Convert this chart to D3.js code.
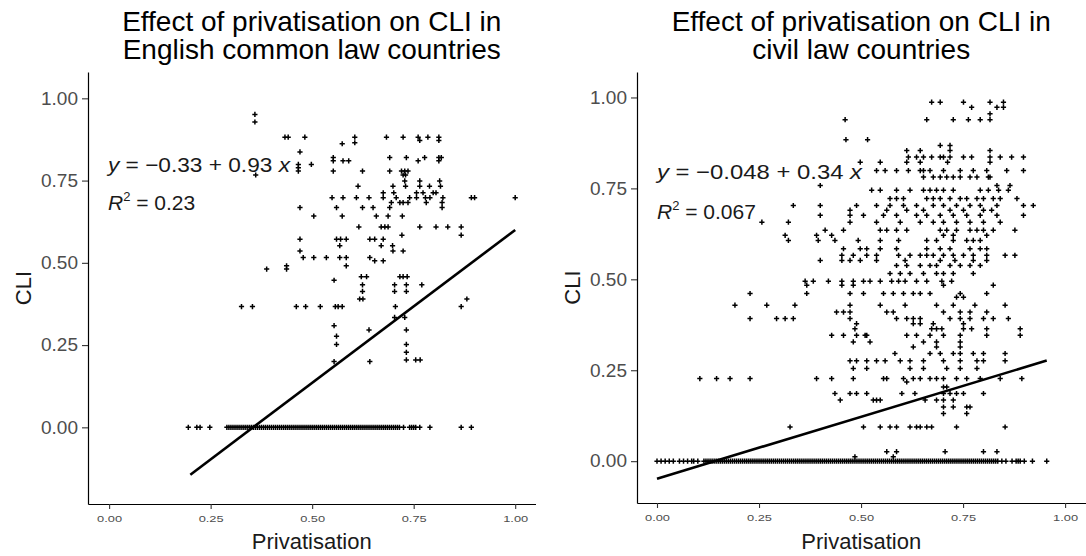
<!DOCTYPE html>
<html><head><meta charset="utf-8">
<script src="https://cdn.jsdelivr.net/npm/d3@7"></script>
<style>body{margin:0;background:#fff}svg{display:block}text{font-family:"Liberation Sans",Arial,sans-serif}</style>
</head><body><svg id="c" width="1086" height="556"></svg>
<script>
// ---------- DATA ----------
const panelTitles = [
  ["Effect of privatisation on CLI in", "English common law countries"],
  ["Effect of privatisation on CLI in", "civil law countries"]
];
const xLabel = "Privatisation";
const yLabel = "CLI";
const xTicks = [0, 0.25, 0.5, 0.75, 1.0];
const yTicks = [0, 0.25, 0.5, 0.75, 1.0];

// fitted models: [intercept, slope], fitted x range, R^2
const commonFit = [-0.33, 0.93];
const commonFitRange = [0.2, 1.0];
const commonR2 = 0.23;
const civilFit = [-0.048, 0.34];
const civilFitRange = [0.0, 0.955];
const civilR2 = 0.067;

// points grouped by CLI level: [CLI, [privatisation values]]
const commonRows = [
  [0.951,[0.359]],
  [0.928,[0.359]],
  [0.882,[0.433,0.441,0.482,0.605,0.683,0.724,0.761,0.785,0.812]],
  [0.872,[0.765,0.812]],
  [0.865,[0.605]],
  [0.862,[0.574]],
  [0.837,[0.47]],
  [0.82,[0.552,0.691,0.732,0.777,0.812,0.818]],
  [0.81,[0.552,0.576,0.59,0.761,0.812]],
  [0.799,[0.466,0.498]],
  [0.789,[0.466]],
  [0.779,[0.466,0.552,0.624,0.691,0.72,0.728,0.736]],
  [0.767,[0.361,0.724,0.73]],
  [0.749,[0.728,0.765,0.814]],
  [0.733,[0.613,0.699,0.73,0.765,0.789,0.816]],
  [0.713,[0.675,0.701,0.757,0.773,0.798,0.805]],
  [0.698,[0.549,0.576,0.609,0.64,0.675,0.707,0.74,0.757,0.779,0.79,0.822,0.892,0.9,1.0]],
  [0.683,[0.695,0.716,0.724,0.736,0.781,0.82]],
  [0.668,[0.47,0.56,0.624,0.65,0.691,0.82]],
  [0.642,[0.504,0.574,0.658,0.687,0.722]],
  [0.609,[0.615,0.67,0.679,0.687,0.765,0.805,0.834,0.867]],
  [0.584,[0.721,0.867]],
  [0.572,[0.47,0.56,0.57,0.584,0.642,0.654,0.675]],
  [0.552,[0.568,0.67,0.698]],
  [0.536,[0.47,0.699,0.724]],
  [0.516,[0.478,0.504,0.535,0.568,0.584,0.642]],
  [0.506,[0.654,0.675]],
  [0.491,[0.437,0.584]],
  [0.481,[0.388,0.437]],
  [0.458,[0.621,0.634,0.716,0.724,0.734]],
  [0.447,[0.554]],
  [0.433,[0.624,0.703,0.732,0.77]],
  [0.413,[0.624,0.703,0.732]],
  [0.39,[0.617,0.625,0.881]],
  [0.367,[0.326,0.353,0.461,0.484,0.52,0.557,0.564,0.574,0.705,0.867]],
  [0.334,[0.703,0.728]],
  [0.309,[0.554]],
  [0.296,[0.64,0.732]],
  [0.277,[0.56]],
  [0.252,[0.56,0.732]],
  [0.228,[0.732]],
  [0.205,[0.732,0.755,0.766]],
  [0.2,[0.554,0.642]],
  [0,[0.195,0.216,0.224,0.248,
      0.29,0.295,0.3,0.305,0.31,0.315,0.32,0.325,0.33,0.335,0.34,0.345,0.35,0.355,0.36,0.365,0.37,0.375,0.38,0.385,0.39,0.395,
      0.4,0.405,0.41,0.415,0.42,0.425,0.43,0.435,0.44,0.445,0.45,0.455,0.46,0.465,0.47,0.475,0.48,0.485,0.49,0.495,
      0.5,0.505,0.51,0.515,0.52,0.525,0.53,0.535,0.54,0.545,0.55,0.555,0.56,0.565,0.57,0.575,0.58,0.585,0.59,0.595,
      0.6,0.605,0.61,0.615,0.62,0.625,0.63,0.635,0.64,0.645,0.65,0.655,0.66,0.665,0.67,0.675,0.68,0.685,0.69,0.695,
      0.7,0.705,0.71,0.715,0.725,0.74,0.745,0.75,0.755,0.765,0.79,0.867,0.892]]
];

const civilRows = [
  [0.987,[0.673,0.694,0.751,0.816,0.849]],
  [0.973,[0.771,0.833,0.849]],
  [0.955,[0.816]],
  [0.939,[0.461,0.661,0.726,0.763,0.792,0.816]],
  [0.884,[0.463,0.516]],
  [0.868,[0.694,0.718]],
  [0.854,[0.612,0.645,0.718,0.816]],
  [0.836,[0.616,0.636,0.653,0.673,0.694,0.702,0.718,0.751,0.771,0.816,0.841,0.869,0.898]],
  [0.822,[0.498,0.547,0.612,0.645,0.712,0.816]],
  [0.799,[0.538,0.559,0.587,0.616,0.645,0.653,0.669,0.702,0.743,0.775,0.808,0.857,0.898]],
  [0.781,[0.653,0.677,0.694,0.71,0.726,0.743,0.767,0.784,0.812,0.816]],
  [0.758,[0.4,0.833,0.865]],
  [0.745,[0.526,0.547,0.587,0.62,0.653,0.669,0.685,0.702,0.726,0.792,0.812,0.837,0.861]],
  [0.722,[0.571,0.587,0.604,0.661,0.677,0.694,0.718,0.743,0.759,0.784,0.8,0.824,0.841,0.882]],
  [0.703,[0.334,0.4,0.489,0.538,0.571,0.604,0.636,0.677,0.702,0.734,0.767,0.792,0.833,0.898,0.922]],
  [0.69,[0.473,0.563,0.612,0.653,0.718,0.751,0.8,0.82]],
  [0.676,[0.4,0.473,0.506,0.555,0.587,0.636,0.661,0.694,0.726,0.759,0.792,0.833,0.898]],
  [0.657,[0.257,0.322,0.473,0.538,0.596,0.645,0.677,0.702,0.734,0.767,0.8,0.841]],
  [0.635,[0.412,0.457,0.547,0.563,0.587,0.612,0.694,0.71,0.734,0.767,0.784,0.8,0.824,0.877]],
  [0.621,[0.314,0.391,0.428,0.702,0.726,0.808]],
  [0.607,[0.322,0.395,0.436,0.493,0.547,0.592,0.661,0.685,0.726,0.759,0.775,0.792]],
  [0.584,[0.457,0.498,0.514,0.547,0.587,0.661,0.694,0.718,0.767,0.792,0.808]],
  [0.566,[0.453,0.481,0.514,0.538,0.592,0.62,0.645,0.661,0.677,0.702,0.726,0.751,0.775,0.808,0.853,0.877]],
  [0.552,[0.4,0.453,0.473,0.498,0.538,0.608,0.694,0.73,0.775,0.808]],
  [0.538,[0.587,0.612,0.645,0.669,0.685,0.718,0.743,0.767,0.792]],
  [0.516,[0.571,0.596,0.62,0.653,0.685,0.702,0.726,0.775]],
  [0.495,[0.363,0.383,0.42,0.453,0.481,0.506,0.522,0.547,0.575,0.592,0.608,0.636,0.661,0.698,0.722]],
  [0.484,[0.367,0.453,0.481,0.702,0.824]],
  [0.461,[0.228,0.367,0.473,0.506,0.555,0.579,0.604,0.628,0.645,0.669,0.743,0.808]],
  [0.451,[0.734,0.751]],
  [0.429,[0.191,0.269,0.338,0.473,0.547,0.608,0.685,0.726,0.779,0.853]],
  [0.41,[0.44,0.457,0.473,0.563,0.579,0.702,0.743,0.767,0.808]],
  [0.392,[0.228,0.293,0.314,0.334,0.473,0.587,0.612,0.628,0.645,0.718,0.743,0.767,0.8,0.824,0.861]],
  [0.378,[0.489,0.628,0.645,0.677,0.751]],
  [0.364,[0.485,0.673,0.685,0.698,0.751,0.771,0.808,0.89]],
  [0.346,[0.428,0.457,0.489,0.51,0.514,0.612,0.636,0.669,0.702,0.743,0.808,0.89]],
  [0.328,[0.481,0.522,0.653,0.685,0.743]],
  [0.314,[0.628,0.685,0.743]],
  [0.296,[0.583,0.669,0.694,0.726,0.743,0.775,0.8,0.853]],
  [0.276,[0.473,0.489,0.514,0.538,0.559,0.596,0.62,0.653,0.702,0.743,0.784,0.8,0.853]],
  [0.255,[0.481,0.514,0.62,0.653,0.71,0.743,0.784]],
  [0.227,[0.105,0.146,0.179,0.228,0.391,0.428,0.481,0.555,0.563,0.604,0.628,0.645,0.669,0.685,0.702,0.734,0.759,0.792,0.841,0.894]],
  [0.218,[0.612]],
  [0.204,[0.702,0.71]],
  [0.186,[0.436,0.473,0.489,0.514,0.6,0.632,0.702,0.718,0.734,0.751,0.8]],
  [0.168,[0.449,0.53,0.538,0.547,0.657,0.685,0.702,0.726]],
  [0.149,[0.702,0.726,0.759,0.767]],
  [0.131,[0.702,0.759]],
  [0.094,[0.326,0.506,0.547,0.571,0.587,0.62,0.636,0.645,0.661,0.673,0.734,0.853]],
  [0.026,[0.563,0.587,0.706,0.8,0.833]],
  [0.012,[0.485,0.579]],
  [0,[0,0.01,0.02,0.03,0.04,0.055,0.065,0.075,0.085,0.09,0.1,
      0.115,0.12,0.125,0.13,0.135,0.14,0.145,0.15,0.155,0.16,0.165,0.17,0.175,0.18,0.185,0.19,0.195,
      0.2,0.205,0.21,0.215,0.22,0.225,0.23,0.235,0.24,0.245,0.25,0.255,0.26,0.265,0.27,0.275,0.28,0.285,0.29,0.295,
      0.3,0.305,0.31,0.315,0.32,0.325,0.33,0.335,0.34,0.345,0.35,0.355,0.36,0.365,0.37,0.375,0.38,0.385,0.39,0.395,
      0.4,0.405,0.41,0.415,0.42,0.425,0.43,0.435,0.44,0.445,0.45,0.455,0.46,0.465,0.47,0.475,0.48,0.485,0.49,0.495,
      0.5,0.505,0.51,0.515,0.52,0.525,0.53,0.535,0.54,0.545,0.55,0.555,0.56,0.565,0.57,0.575,0.58,0.585,0.59,0.595,
      0.6,0.605,0.61,0.615,0.62,0.625,0.63,0.635,0.64,0.645,0.65,0.655,0.66,0.665,0.67,0.675,0.68,0.685,0.69,0.695,
      0.7,0.705,0.71,0.715,0.72,0.725,0.73,0.735,0.74,0.745,0.75,0.755,0.76,0.765,0.77,0.775,0.78,0.785,0.79,0.795,
      0.8,0.805,0.81,0.815,0.82,0.825,0.83,0.835,0.845,0.855,0.87,0.88,0.885,0.89,0.9,0.92,0.955]]
];

// ---------- LAYOUT ----------
const panels = [
  {rows: commonRows, fit: commonFit, range: commonFitRange, r2: commonR2, titles: panelTitles[0],
   px: [88, 535.5], py: [504, 72], xDom: [-0.052, 1.05], yDom: [-0.233, 1.08],
   eq: {x: 108, y: 172, w: 182, rx: 108, ry: 210}},
  {rows: civilRows, fit: civilFit, range: civilFitRange, r2: civilR2, titles: panelTitles[1],
   px: [637, 1085.5], py: [503, 72], xDom: [-0.049, 1.05], yDom: [-0.115, 1.07],
   eq: {x: 657, y: 179, w: 205, rx: 657, ry: 219}}
];

const svg = d3.select("#c");
const fmt = d3.format(".2f");
const num = v => String(Math.abs(v));

panels.forEach(p => {
  const x = d3.scaleLinear().domain(p.xDom).range(p.px);
  const y = d3.scaleLinear().domain(p.yDom).range(p.py);
  const g = svg.append("g");

  // points
  const pts = p.rows.flatMap(([cli, xs]) => xs.map(v => [v, cli]));
  g.append("g").selectAll("path").data(pts).join("path")
    .attr("transform", d => `translate(${x(d[0])},${y(d[1])})`)
    .attr("d", "M-2.6,0H2.6M0,-2.6V2.6")
    .attr("stroke", "#000").attr("stroke-width", 1.5).attr("fill", "none");

  // regression line
  const line = d3.line().x(d => x(d)).y(d => y(p.fit[0] + p.fit[1] * d));
  g.append("path").datum(p.range).attr("d", line)
    .attr("stroke", "#000").attr("stroke-width", 2.6).attr("fill", "none");

  // axes
  const ya = g.append("g").attr("transform", `translate(${p.px[0]},0)`)
    .call(d3.axisLeft(y).tickValues(yTicks).tickFormat(fmt).tickSize(6).tickSizeOuter(0).tickPadding(4));
  ya.select(".domain").attr("stroke", "#000").attr("stroke-width", 1.2);
  ya.selectAll(".tick line").attr("stroke", "#333").attr("stroke-width", 1.1);
  ya.selectAll(".tick text").attr("fill", "#4d4d4d").attr("font-size", 18)
    .attr("font-family", "Liberation Sans, Arial, sans-serif")
    .attr("textLength", 37).attr("lengthAdjust", "spacingAndGlyphs");

  const xa = g.append("g").attr("transform", `translate(0,${p.py[0]})`)
    .call(d3.axisBottom(x).tickValues(xTicks).tickFormat(fmt).tickSize(5).tickSizeOuter(0).tickPadding(6));
  xa.select(".domain").attr("stroke", "#000").attr("stroke-width", 1.2);
  xa.selectAll(".tick line").attr("stroke", "#333").attr("stroke-width", 1.1);
  xa.selectAll(".tick text").attr("fill", "#4d4d4d").attr("font-size", 9.5)
    .attr("font-family", "Liberation Sans, Arial, sans-serif")
    .attr("textLength", 25).attr("lengthAdjust", "spacingAndGlyphs");

  const cx = (p.px[0] + p.px[1]) / 2;
  const cy = (p.py[0] + p.py[1]) / 2;

  // axis titles
  g.append("text").attr("x", cx).attr("y", 549).attr("text-anchor", "middle")
    .attr("font-size", 22).attr("fill", "#1a1a1a").text(xLabel);
  g.append("text").attr("transform", `translate(${p.px[0] - 57},${cy}) rotate(-90)`)
    .attr("text-anchor", "middle").attr("font-size", 22).attr("fill", "#1a1a1a").text(yLabel);

  // titles
  p.titles.forEach((t, i) => {
    g.append("text").attr("x", cx).attr("y", 31 + i * 28).attr("text-anchor", "middle")
      .attr("font-size", 28).attr("fill", "#000").text(t);
  });

  // equation
  const eq = g.append("text").attr("x", p.eq.x).attr("y", p.eq.y)
    .attr("font-size", 21).attr("fill", "#1a1a1a")
    .attr("textLength", p.eq.w).attr("lengthAdjust", "spacingAndGlyphs");
  eq.append("tspan").attr("font-style", "italic").text("y");
  eq.append("tspan").text(` = ${p.fit[0] < 0 ? "\u2212" : ""}${num(p.fit[0])} + ${num(p.fit[1])} `);
  eq.append("tspan").attr("font-style", "italic").text("x");

  const r = g.append("text").attr("x", p.eq.rx).attr("y", p.eq.ry)
    .attr("font-size", 21).attr("fill", "#1a1a1a");
  r.append("tspan").attr("font-style", "italic").text("R");
  r.append("tspan").attr("font-size", 13).attr("dy", -9).text("2");
  r.append("tspan").attr("dy", 9).text(` = ${p.r2}`);
});
</script></body></html>
